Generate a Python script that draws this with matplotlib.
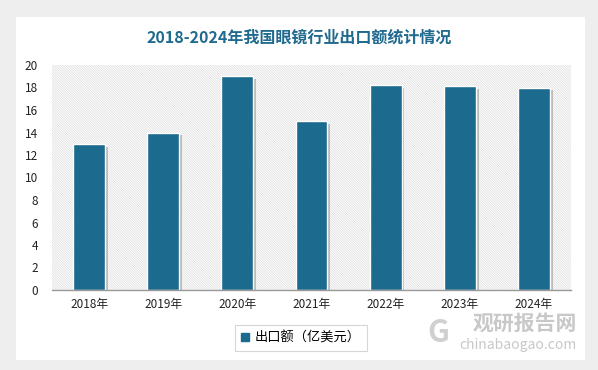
import matplotlib.pyplot as plt
import matplotlib.patheffects as pe
from matplotlib.patches import Rectangle

plt.rcParams['font.family'] = ['Noto Sans CJK SC', 'DejaVu Sans']
plt.rcParams['hatch.linewidth'] = 0.5

# 数据
years = ['2018年', '2019年', '2020年', '2021年', '2022年', '2023年', '2024年']
export_values = [13, 14, 19, 15, 18.2, 18.1, 18.0]
y_ticks = [0, 2, 4, 6, 8, 10, 12, 14, 16, 18, 20]
title = '2018-2024年我国眼镜行业出口额统计情况'
legend_label = '出口额（亿美元）'
bar_color = '#1c6a8e'

fig = plt.figure(figsize=(5.98, 3.70), dpi=100)
fig.patch.set_facecolor('#eeeeee')

# 白色卡片背景
card = Rectangle((16 / 598, 1 - 360 / 370), (585 - 16) / 598, (360 - 17) / 370,
                 transform=fig.transFigure, facecolor='white', edgecolor='none',
                 zorder=-5, path_effects=[pe.SimplePatchShadow(offset=(0, 0), shadow_rgbFace='#cccccc', alpha=0.6), pe.Normal()])
fig.patches.append(card)

ax = fig.add_axes([52 / 598, 1 - 290 / 370, (571 - 52) / 598, (290 - 65) / 370])
ax.set_facecolor('white')
ax.patch.set_hatch('\\' * 14)
ax.patch.set_edgecolor('#dcdcdc')
ax.patch.set_linewidth(0)

x = range(len(years))
bars = ax.bar(x, export_values, width=0.43, color=bar_color, edgecolor='white', linewidth=1,
              label=legend_label, zorder=3)
for b in bars:
    b.set_path_effects([pe.SimplePatchShadow(offset=(2, -2), shadow_rgbFace='#888888', alpha=0.5), pe.Normal()])

ax.set_xlim(-0.5, len(years) - 0.5)
ax.set_ylim(0, 20)
ax.set_yticks(y_ticks)
ax.set_xticks(list(x))
ax.set_xticklabels(years)
ax.tick_params(axis='both', length=0, labelsize=8.5, colors='#222222')
ax.tick_params(axis='y', pad=10)
ax.tick_params(axis='x', pad=6)
for s in ['top', 'right', 'left']:
    ax.spines[s].set_visible(False)
ax.spines['bottom'].set_color('#999999')
ax.spines['bottom'].set_linewidth(1)
ax.spines['bottom'].set_zorder(4)

# 标题
fig.text(0.5, 1 - 38 / 370, title, ha='center', va='center', fontsize=11.5,
         fontweight='bold', color='#1f6a8e')

# 图例
leg = fig.legend(handles=[bars], labels=[legend_label], loc='center',
                 bbox_to_anchor=(301 / 598, 1 - 338 / 370), frameon=True, fancybox=False,
                 fontsize=9.5, handlelength=0.6, handleheight=0.6, handletextpad=0.4,
                 borderpad=0.45, edgecolor='#cccccc')
leg.get_frame().set_linewidth(0.8)
for h in leg.legend_handles:
    h.set_path_effects([])
    h.set_edgecolor(bar_color)

# 水印
fig.text(525 / 598, 1 - 323 / 370, '观研报告网', ha='center', va='center', fontsize=15,
         fontweight='bold', color='#c8c8c8', zorder=10)
fig.text(518 / 598, 1 - 345 / 370, 'chinabaogao.com', ha='center', va='center', fontsize=10,
         color='#c8c8c8', zorder=10)
fig.text(438 / 598, 1 - 333 / 370, 'G', ha='center', va='center', fontsize=22,
         fontweight='bold', color='#d0d0d0', zorder=10)

fig.savefig('out.png', dpi=100, facecolor=fig.get_facecolor())
